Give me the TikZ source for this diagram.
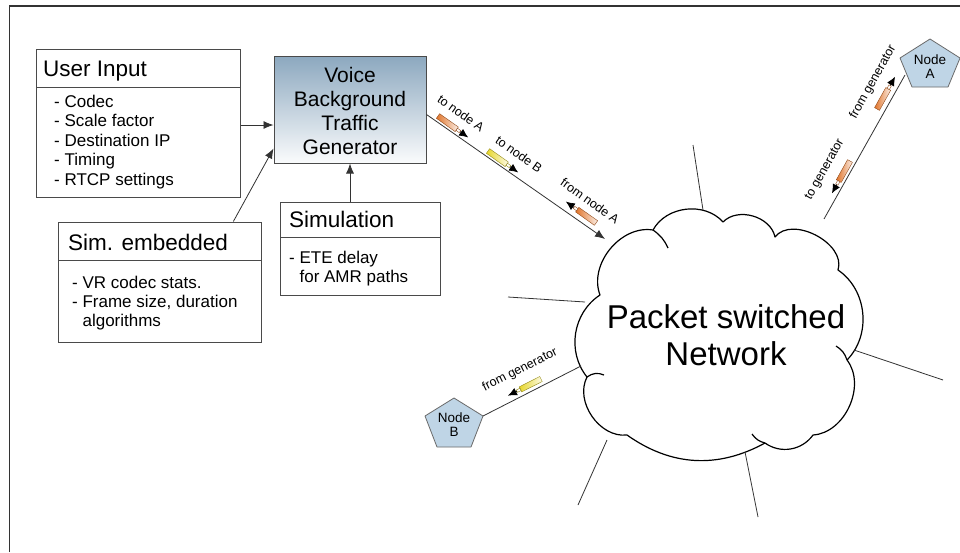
\documentclass[tikz,border=0pt]{standalone}
\usepackage{fontspec}
\setmainfont{Liberation Sans}
\usetikzlibrary{arrows.meta,calc}

\definecolor{frameline}{HTML}{333333}
\definecolor{boxline}{HTML}{4A4A4A}
\definecolor{steel}{HTML}{8CA8BF}
\definecolor{nodefill}{HTML}{BFD5E6}
\definecolor{nodeline}{HTML}{6A6A6A}
\definecolor{orangepk}{HTML}{E0742A}
\definecolor{yellowpk}{HTML}{E6D62A}

\tikzset{
  frame/.style={draw=frameline, line width=1.4pt},
  box/.style={draw=boxline, line width=1pt, fill=white, inner sep=0pt},
  divider/.style={draw=boxline, line width=1pt},
  title/.style={anchor=base west, inner sep=0pt, font=\fontsize{22.5}{27}\selectfont},
  item/.style={anchor=base west, inner sep=0pt, font=\fontsize{17}{19.5}\selectfont},
  gentext/.style={anchor=base, inner sep=0pt, font=\fontsize{21}{24}\selectfont},
  conn/.style={draw=frameline, line width=0.8pt},
  arr/.style={conn, -{Latex[length=10pt,width=8pt]}},
  lbl/.style={inner sep=0pt, font=\fontsize{12.5}{14}\selectfont},
  cloudline/.style={draw=black, line width=1.2pt, line join=round},
  pent/.style={draw=nodeline, fill=nodefill, line width=0.8pt, line join=round},
  nodetext/.style={inner sep=0pt, align=center, font=\fontsize{13.5}{14}\selectfont},
}

% a small packet: shaded bar, white joint and arrow, starting at #1, heading #2
\newcommand\packet[3]{%
  \begin{scope}[shift={#1}, rotate=#2]
    \shade[left color=#3, right color=#3!12, draw=#3!65!black, line width=0.4pt]
      (0,-2.8) rectangle (23,2.8);
    \draw[draw=#3!65!black, fill=white, line width=0.4pt] (23,-1.3) rectangle (27,1.3);
    \draw[line width=0.7pt, -{Latex[length=9pt,width=8pt]}] (27,0) -- (37,0);
  \end{scope}}

\begin{document}
\begin{tikzpicture}[x=1pt,y=-1pt]
\useasboundingbox (0,0) rectangle (960,552);
\fill[white] (0,0) rectangle (960,552);
\draw[frame] (9.5,552) -- (9.5,6) -- (960,6);

% ---- User Input
\node[box, minimum width=204pt, minimum height=148pt] (user) at (138,123) {};
\draw[divider] (36,87) -- (240,87);
\node[title] (userT) at (43,76) {User Input};
\node[item] (u1) at (54,107) {- Codec};
\node[item] (u2) at (54,126.5) {- Scale factor};
\node[item] (u3) at (54,146) {- Destination IP};
\node[item] (u4) at (54,165.5) {- Timing};
\node[item] (u5) at (54,185) {- RTCP settings};

% ---- Generator
\node[draw=boxline, line width=1pt, top color=steel, bottom color=white!96!steel,
      minimum width=152pt, minimum height=107pt, inner sep=0pt] (gen) at (350,109.5) {};
\node[gentext] (g1) at (350,82) {Voice};
\node[gentext] (g2) at (350,106) {Background};
\node[gentext] (g3) at (350,130) {Traffic};
\node[gentext] (g4) at (350,154) {Generator};

% ---- Simulation
\node[box, minimum width=160pt, minimum height=93pt] (sim) at (360,248.5) {};
\draw[divider] (280,237.5) -- (440,237.5);
\node[title] (simT) at (289,227.5) {Simulation};
\node[item] (s1) at (289,263) {- ETE delay};
\node[item] (s2) at (289,282.5) {\hphantom{- }for AMR paths};

% ---- Sim. embedded
\node[box, minimum width=203pt, minimum height=120pt] (emb) at (159.5,282) {};
\draw[divider] (58,260) -- (261,260);
\node[title] (embT) at (68,250) {Sim. embedded};
\node[item] (e1) at (72,288) {- VR codec stats.};
\node[item] (e2) at (72,307) {- Frame size, duration};
\node[item] (e3) at (72,326) {\hphantom{- }algorithms};

% ---- inputs of the generator
\draw[arr] (user.east |- 0,125) -- (gen.west |- 0,125);
\draw[arr] ($(emb.north west)!0.862!(emb.north east)$) -- ([yshift=15pt]gen.south west);
\draw[arr] (gen.south |- sim.north) -- (gen.south);

% ---- the network cloud
\draw[cloudline, fill=white] (600,295) to[bend left=60] (653,230) to[bend left=55] (723,222)
  to[bend left=62] (775,237) to[bend left=80] (838,270) to[bend left=50] (847,360)
  to[bend left=62] (813,435) to[bend left=45] (765,443) to[bend left=32] (627,435)
  to[bend left=62] (587,377) to[bend left=48] (600,295) -- cycle;
\draw[cloudline] (653,230) to[bend left=15] (668,248);
\draw[cloudline] (836,346) to[bend left=20] (847,360);
\draw[cloudline] (765,443) to[bend left=20] (752,434);
\draw[cloudline] (587,377) to[bend left=30] (604,375);
\node[inner sep=0pt, font=\fontsize{33}{38}\selectfont, anchor=base] (net1) at (726,328) {Packet switched};
\node[inner sep=0pt, font=\fontsize{33}{38}\selectfont, anchor=base] (net2) at (726,365) {Network};

% attachment points on the cloud
\coordinate (cIn) at (605,239);
\coordinate (cA) at (824,219);
\coordinate (cB) at (581,366);
\coordinate (cT) at (703,210);
\coordinate (cL) at (585,302);
\coordinate (cR) at (854,350);
\coordinate (cBL) at (607,440);
\coordinate (cBo) at (745,452);
% free ends of the unused links
\coordinate (fT) at (693,145);
\coordinate (fL) at (508,297);
\coordinate (fR) at (943,380);
\coordinate (fBL) at (578,505);
\coordinate (fBo) at (758,517);

\draw[arr] ([yshift=-5pt]gen.east) -- (cIn);
\foreach \a/\b in {cT/fT, cL/fL, cR/fR, cBL/fBL, cBo/fBo}
  \draw[conn] (\a) -- (\b);

% ---- Node A and Node B
\draw[pent] (930,39) -- (960,58) -- (948,87) -- (912,87) -- (900,58) -- cycle;
\node[nodetext] (nodeA) at (930,67) {Node\\A};
\coordinate (pA) at (905,75);
\draw[pent] (454,398) -- (483,416) -- (471,447) -- (437,447) -- (425,416) -- cycle;
\node[nodetext] (nodeB) at (454,425) {Node\\B};
\coordinate (pB) at (483,416);

\draw[conn] (cA) -- (pA);
\draw[conn] (cB) -- (pB);

% ---- packets and their labels
\packet{(438,116)}{-35.4}{orangepk}
\node[lbl, rotate=-35.4] (lToA) at (461,113) {to node A};
\packet{(488,151)}{-35.4}{yellowpk}
\node[lbl, rotate=-35.4] (lToB) at (519,154) {to node B};
\packet{(596,223)}{144.6}{orangepk}
\node[lbl, rotate=-35.4] (lFromA) at (590,201) {from node A};

\packet{(877,109)}{60.8}{orangepk}
\node[lbl, rotate=60.8] (lGenA) at (873,82) {from generator};
\packet{(850,161)}{240.8}{orangepk}
\node[lbl, rotate=60.8] (lToGen) at (825,170) {to generator};

\packet{(541,379)}{206.8}{yellowpk}
\node[lbl, rotate=26.8] (lGenB) at (520,370) {from generator};
\end{tikzpicture}
\end{document}
